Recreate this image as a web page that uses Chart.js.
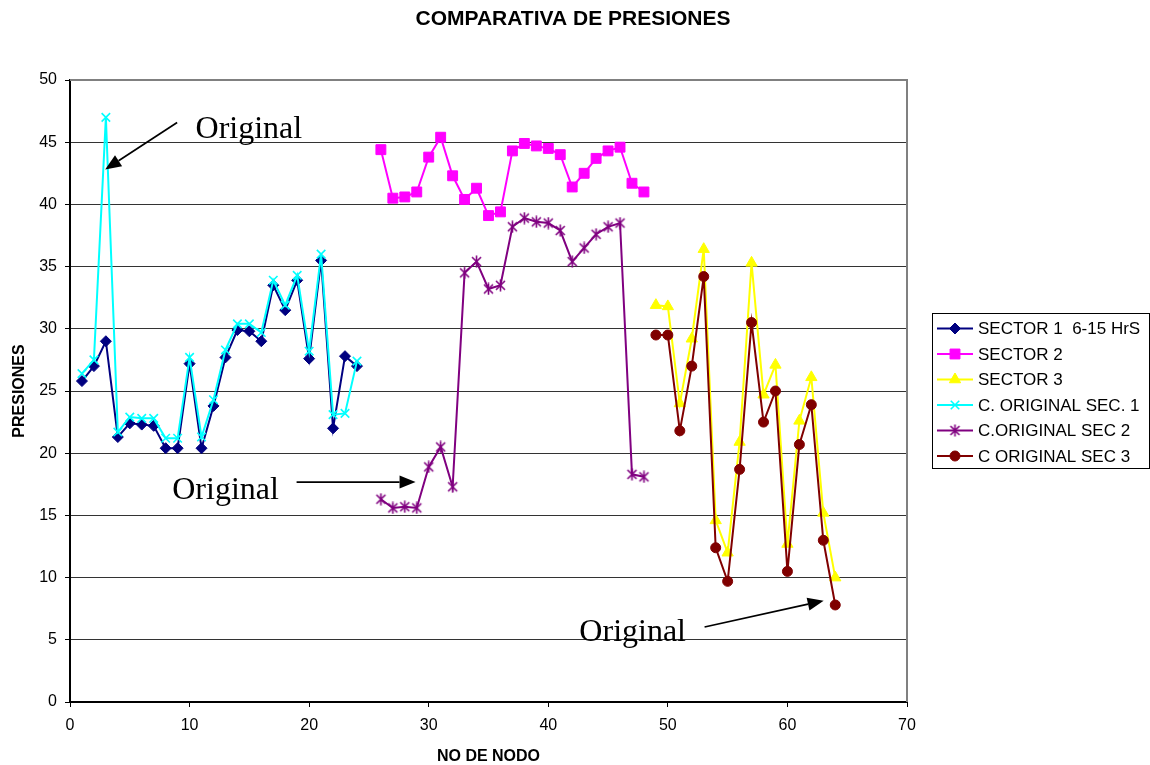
<!DOCTYPE html>
<html>
<head>
<meta charset="utf-8">
<title>Comparativa de presiones</title>
<script src="https://cdn.jsdelivr.net/npm/chart.js@4.4.1/dist/chart.umd.min.js"></script>
<style>
  body { margin: 0; background: #fff; }
  canvas { display: block; }
</style>
</head>
<body>
<canvas id="grafica" width="1150" height="765"></canvas>
<script>
// datos
const nodos1 = [1, 2, 3, 4, 5, 6, 7, 8, 9, 10, 11, 12, 13, 14, 15, 16, 17, 18, 19, 20, 21, 22, 23, 24]
const sector1 = [25.8, 27.0, 29.0, 21.3, 22.4, 22.3, 22.2, 20.4, 20.4, 27.2, 20.4, 23.8, 27.7, 29.9, 29.8, 29.0, 33.5, 31.5, 33.9, 27.6, 35.5, 22.0, 27.8, 27.0]
const original1 = [26.4, 27.5, 47.0, 21.7, 22.9, 22.8, 22.8, 21.2, 21.2, 27.7, 21.3, 24.3, 28.3, 30.4, 30.4, 29.7, 33.9, 31.9, 34.3, 28.2, 36.0, 23.1, 23.2, 27.4]

const nodos2 = [26, 27, 28, 29, 30, 31, 32, 33, 34, 35, 36, 37, 38, 39, 40, 41, 42, 43, 44, 45, 46, 47, 48]
const sector2 = [44.4, 40.5, 40.6, 41.0, 43.8, 45.4, 42.3, 40.4, 41.3, 39.1, 39.4, 44.3, 44.9, 44.7, 44.5, 44.0, 41.4, 42.5, 43.7, 44.3, 44.6, 41.7, 41.0]
const original2 = [16.3, 15.6, 15.7, 15.6, 18.9, 20.5, 17.3, 34.5, 35.4, 33.2, 33.5, 38.2, 38.9, 38.6, 38.5, 37.9, 35.4, 36.5, 37.6, 38.2, 38.5, 18.3, 18.1]

const nodos3 = [49, 50, 51, 52, 53, 54, 55, 56, 57, 58, 59, 60, 61, 62, 63, 64]
const sector3 = [31.9, 31.8, 24.0, 29.2, 36.4, 14.6, 12.0, 20.9, 35.3, 24.7, 27.1, 12.7, 22.6, 26.1, 15.2, 10.0]
const original3 = [29.5, 29.5, 21.8, 27.0, 34.2, 12.4, 9.7, 18.7, 30.5, 22.5, 25.0, 10.5, 20.7, 23.9, 13.0, 7.8]

const series = ['SECTOR 1  6-15 HrS', 'SECTOR 2', 'SECTOR 3', 'C. ORIGINAL SEC. 1', 'C.ORIGINAL SEC 2', 'C ORIGINAL SEC 3']
const titulo = 'COMPARATIVA DE PRESIONES'

// notas "Original" con flecha (coordenadas en unidades de los ejes)
const notas = [
  { texto: 'Original', x: 10.5, y: 45.3, desde: [8.96, 46.58], hasta: [2.94, 42.81] },
  { texto: 'Original', x: 8.55, y: 16.3, desde: [18.95, 17.68], hasta: [28.9, 17.68] },
  { texto: 'Original', x: 42.6, y: 4.9, desde: [53.07, 6.03], hasta: [63.03, 8.14] }
]

function puntos(xs, ys) {
  return xs.map((x, i) => ({ x: x, y: ys[i] }))
}

// asterisco tipo excel (x con raya vertical)
function asterisco(color) {
  const c = document.createElement('canvas')
  c.width = 13
  c.height = 13
  const g = c.getContext('2d')
  g.strokeStyle = color
  g.lineWidth = 1.6
  g.beginPath()
  g.moveTo(2, 2); g.lineTo(11, 11)
  g.moveTo(11, 2); g.lineTo(2, 11)
  g.moveTo(6.5, 0.5); g.lineTo(6.5, 12.5)
  g.stroke()
  return c
}

function serie(label, data, color, estilo, radio, orden) {
  return {
    label: label,
    data: data,
    borderColor: color,
    backgroundColor: color,
    borderWidth: 2,
    pointStyle: estilo,
    pointRadius: radio,
    pointBorderWidth: estilo === 'crossRot' ? 1.6 : 1,
    pointBorderColor: color,
    pointBackgroundColor: color,
    tension: 0,
    order: orden
  }
}

const datasets = [
  serie(series[0], puntos(nodos1, sector1), '#000080', 'rectRot', 5.5, 5),
  serie(series[1], puntos(nodos2, sector2), '#FF00FF', 'rect', 7, 4),
  serie(series[2], puntos(nodos3, sector3), '#FFFF00', 'triangle', 6.5, 3),
  serie(series[3], puntos(nodos1, original1), '#00FFFF', 'crossRot', 6, 2),
  serie(series[4], puntos(nodos2, original2), '#800080', asterisco('#800080'), 6, 1),
  serie(series[5], puntos(nodos3, original3), '#800000', 'circle', 5, 0)
]

const fuente = '"Liberation Sans", Arial, sans-serif'

const marco = {
  id: 'marco',
  beforeDatasetsDraw(chart) {
    const a = chart.chartArea
    const ctx = chart.ctx
    ctx.save()
    ctx.strokeStyle = '#808080'
    ctx.lineWidth = 2
    ctx.beginPath()
    ctx.moveTo(a.left, a.top)
    ctx.lineTo(a.right, a.top)
    ctx.lineTo(a.right, a.bottom)
    ctx.stroke()
    // titulo centrado sobre todo el lienzo
    ctx.fillStyle = '#000'
    ctx.font = 'bold 21px ' + fuente
    ctx.textAlign = 'center'
    ctx.textBaseline = 'middle'
    ctx.fillText(titulo, chart.width / 2 - 2, 19)
    ctx.restore()
  }
}

const anotaciones = {
  id: 'anotaciones',
  afterDatasetsDraw(chart) {
    const ctx = chart.ctx
    const sx = chart.scales.x
    const sy = chart.scales.y
    ctx.save()
    notas.forEach(n => {
      ctx.fillStyle = '#000'
      ctx.font = '32px "Liberation Serif", "Times New Roman", serif'
      ctx.textBaseline = 'alphabetic'
      ctx.textAlign = 'left'
      ctx.fillText(n.texto, sx.getPixelForValue(n.x), sy.getPixelForValue(n.y))

      const x0 = sx.getPixelForValue(n.desde[0]), y0 = sy.getPixelForValue(n.desde[1])
      const x1 = sx.getPixelForValue(n.hasta[0]), y1 = sy.getPixelForValue(n.hasta[1])
      const ang = Math.atan2(y1 - y0, x1 - x0)
      const largo = 16, ancho = 6.5
      const bx = x1 - largo * Math.cos(ang), by = y1 - largo * Math.sin(ang)
      ctx.strokeStyle = '#000'
      ctx.lineWidth = 1.7
      ctx.beginPath()
      ctx.moveTo(x0, y0)
      ctx.lineTo(bx, by)
      ctx.stroke()
      ctx.beginPath()
      ctx.moveTo(x1, y1)
      ctx.lineTo(bx + ancho * Math.sin(ang), by - ancho * Math.cos(ang))
      ctx.lineTo(bx - ancho * Math.sin(ang), by + ancho * Math.cos(ang))
      ctx.closePath()
      ctx.fill()
    })
    ctx.restore()
  }
}

// leyenda estilo excel: linea + marcador, con recuadro
const leyenda = {
  id: 'leyenda',
  afterDraw(chart) {
    const ctx = chart.ctx
    const izq = 932, arriba = 313, ancho = 217, alto = 155
    ctx.save()
    ctx.fillStyle = '#fff'
    ctx.fillRect(izq, arriba, ancho, alto)
    ctx.strokeStyle = '#000'
    ctx.lineWidth = 1
    ctx.strokeRect(izq + 0.5, arriba + 0.5, ancho, alto)
    chart.data.datasets.forEach((ds, i) => {
      const y = arriba + 15.5 + i * 25.5
      ctx.strokeStyle = ds.borderColor
      ctx.lineWidth = 2
      ctx.beginPath()
      ctx.moveTo(izq + 5, y)
      ctx.lineTo(izq + 41, y)
      ctx.stroke()
      ctx.fillStyle = ds.backgroundColor
      ctx.lineWidth = ds.pointBorderWidth
      Chart.helpers.drawPoint(ctx, {
        pointStyle: ds.pointStyle,
        radius: ds.pointRadius,
        rotation: 0,
        borderWidth: ds.pointBorderWidth
      }, izq + 23, y)
      ctx.fillStyle = '#000'
      ctx.font = '17px ' + fuente
      ctx.textBaseline = 'middle'
      ctx.textAlign = 'left'
      ctx.fillText(ds.label, izq + 46, y + 1)
    })
    ctx.restore()
  }
}

new Chart(document.getElementById('grafica'), {
  type: 'line',
  data: { datasets: datasets },
  options: {
    responsive: false,
    animation: false,
    devicePixelRatio: 1,
    layout: { padding: { left: 0, right: 243, top: 80, bottom: 0 } },
    plugins: {
      legend: { display: false },
      tooltip: { enabled: false },
      title: { display: false }
    },
    scales: {
      x: {
        type: 'linear',
        min: 0,
        max: 70,
        afterFit(s) { s.height = 63 },
        ticks: { stepSize: 10, color: '#000', padding: 9, font: { family: fuente, size: 16 } },
        grid: { drawOnChartArea: false, drawTicks: true, tickLength: 5, color: '#000' },
        border: { color: '#000', width: 2 },
        title: {
          display: true,
          text: 'NO DE NODO',
          color: '#000',
          font: { family: fuente, size: 16, weight: 'bold' },
          padding: { top: 0, bottom: -1 }
        }
      },
      y: {
        min: 0,
        max: 50,
        afterFit(s) { s.width = 70 },
        ticks: { stepSize: 5, color: '#000', padding: 8, font: { family: fuente, size: 16 } },
        grid: {
          color: ctx => ctx.tick && ctx.tick.value === 50 ? 'rgba(0,0,0,0)' : '#333',
          tickColor: '#000',
          lineWidth: 1,
          tickLength: 5
        },
        border: { color: '#000', width: 2 },
        title: {
          display: true,
          text: 'PRESIONES',
          color: '#000',
          font: { family: fuente, size: 16, weight: 'bold' },
          padding: { top: 10, bottom: 0 }
        }
      }
    }
  },
  plugins: [marco, anotaciones, leyenda]
})
</script>
</body>
</html>
